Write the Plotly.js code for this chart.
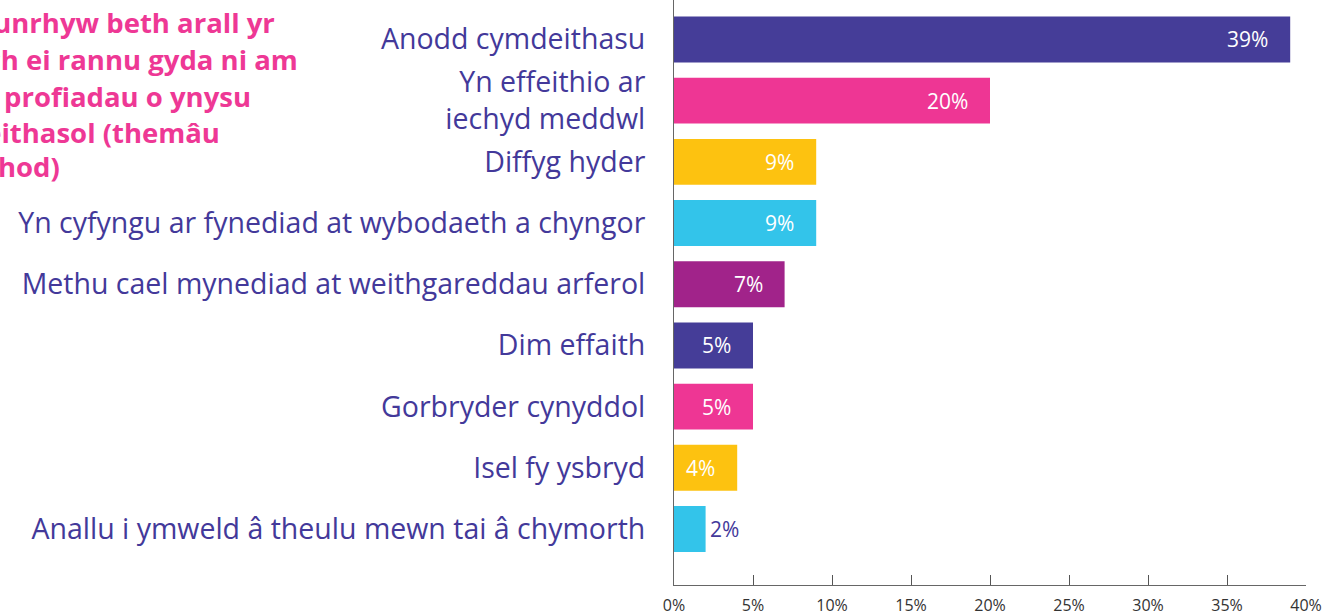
<!DOCTYPE html>
<html>
<head>
<meta charset="utf-8">
<script src="https://cdn.plot.ly/plotly-3.0.1.min.js"></script>
<style>html,body{margin:0;padding:0;background:#fff;overflow:hidden}#chart{width:1325px;height:616px}</style>
</head>
<body>
<div id="chart"></div>
<script>
// ---- data ----
const categories = [
  "Anodd cymdeithasu",
  "Yn effeithio ar<br>iechyd meddwl",
  "Diffyg hyder",
  "Yn cyfyngu ar fynediad at wybodaeth a chyngor",
  "Methu cael mynediad at weithgareddau arferol",
  "Dim effaith",
  "Gorbryder cynyddol",
  "Isel fy ysbryd",
  "Anallu i ymweld â theulu mewn tai â chymorth"
];
const values = [39, 20, 9, 9, 7, 5, 5, 4, 2];
const valueLabels = ["39%", "20%", "9%", "9%", "7%", "5%", "5%", "4%", "2%"];
const barColors = ["#453d98", "#ee3694", "#fdc210", "#33c4ea", "#a1238a", "#453d98", "#ee3694", "#fdc210", "#33c4ea"];
const titleLines = [
  "A oes unrhyw beth arall yr",
  "hoffech ei rannu gyda ni am",
  "eich profiadau o ynysu",
  "cymdeithasol (themâu",
  "a chod)"
];
const xTickVals = [0, 5, 10, 15, 20, 25, 30, 35, 40];
const xTickText = ["0%", "5%", "10%", "15%", "20%", "25%", "30%", "35%", "40%"];

// ---- layout constants ----
const W = 1325, H = 616;
const plotL = 674, plotR = 1306, plotT = 0, plotB = 585;
const labelFont = "'Open Sans', Lato, sans-serif";
const purple = "#43399a";
const pink = "#ee3895";

const trace = {
  type: "bar",
  orientation: "h",
  x: values,
  y: categories,
  width: 0.75,
  marker: { color: barColors },
  hoverinfo: "none"
};

const annotations = [];
values.forEach((v, i) => {
  const outside = (i === values.length - 1);
  annotations.push({
    x: v, y: categories[i], xref: "x", yref: "y",
    text: valueLabels[i],
    showarrow: false,
    xanchor: outside ? "left" : "right",
    xshift: outside ? 2 : -20,
    font: { family: labelFont, size: 21, color: outside ? purple : "#ffffff" }
  });
});

// title lines (left part is cut off by the page edge, as in the source)
const titleRight = [277, 300, 253, 222, 62];
const titleY = [23, 60, 97, 133, 166];
titleLines.forEach((t, i) => {
  annotations.push({
    xref: "paper", yref: "paper",
    x: (titleRight[i] - plotL) / (plotR - plotL),
    y: 1 - (titleY[i] - plotT) / (plotB - plotT),
    xanchor: "right", yanchor: "middle",
    text: "<b>" + t + "</b>",
    showarrow: false,
    font: { family: labelFont, size: 27.5, color: pink }
  });
});

const layout = {
  width: W, height: H,
  margin: { l: plotL, r: W - plotR, t: plotT, b: H - plotB, pad: 0 },
  paper_bgcolor: "#ffffff",
  plot_bgcolor: "#ffffff",
  showlegend: false,
  bargap: 0.25,
  xaxis: {
    range: [0, 40],
    tickvals: xTickVals,
    ticktext: xTickText,
    ticks: "inside",
    ticklen: 10,
    tickcolor: "#555",
    showgrid: false,
    zeroline: false,
    showline: true,
    linecolor: "#666",
    linewidth: 1,
    ticklabelstandoff: 6,
    tickfont: { family: labelFont, size: 16, color: "#333" },
    fixedrange: true
  },
  yaxis: {
    type: "category",
    categoryorder: "array",
    categoryarray: categories,
    range: [8.915, -0.645],
    showgrid: false,
    zeroline: false,
    showline: true,
    linecolor: "#666",
    linewidth: 1,
    ticks: "",
    ticklabelstandoff: 22,
    tickfont: { family: labelFont, size: 28.5, color: purple },
    fixedrange: true
  },
  annotations: annotations
};

Plotly.newPlot("chart", [trace], layout, { displayModeBar: false, staticPlot: true });
</script>
</body>
</html>
